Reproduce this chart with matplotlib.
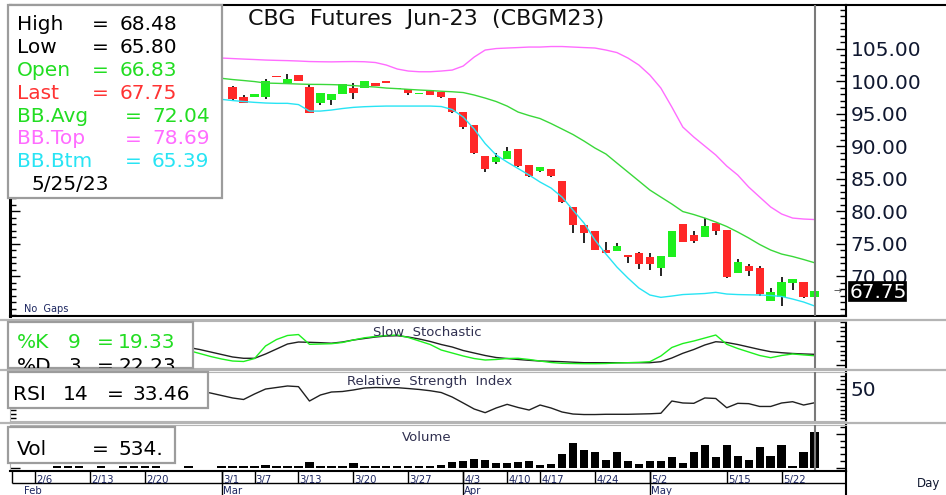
import numpy as np
import pandas as pd
import matplotlib
matplotlib.use("Agg")
import matplotlib.pyplot as plt
from matplotlib.patches import Rectangle
from matplotlib.lines import Line2D

W, H = 946, 495

# trading calendar (days without a print are left out of the chart)
no_trade = ['2023-03-06', '2023-04-07', '2023-04-13', '2023-04-14',
            '2023-05-01', '2023-05-09', '2023-05-10']
days = pd.bdate_range('2023-02-02', '2023-05-25').drop(pd.to_datetime(no_trade))


def pos(d):
    return days.get_loc(pd.Timestamp(d))


# ---- daily candles, 3/2 .. 5/25
candle_start = '2023-03-02'
c_open = [99.12, 97.58, 97.58, 97.58, 100.70, 99.65, 100.97, 99.03, 96.57, 97.08,
          97.95, 98.92, 98.92, 99.69, 100.00, 98.85, 98.72, 97.95, 98.62, 98.36,
          97.34, 95.18, 93.23, 88.50, 87.58, 88.05, 89.54, 87.08, 86.10, 86.41,
          84.57, 80.57, 77.85, 76.92, 74.00, 73.90, 73.28, 73.49, 72.97, 71.28,
          72.97, 77.95, 76.30, 75.95, 78.20, 77.08, 70.51, 71.59, 71.18, 66.20,
          66.72, 68.97, 69.03, 66.83]
c_high = [99.25, 97.80, 98.00, 100.26, 100.70, 101.08, 100.97, 99.43, 98.20, 98.00,
          99.49, 99.74, 100.00, 99.69, 100.00, 98.95, 98.72, 98.20, 98.62, 98.36,
          97.34, 95.18, 93.23, 88.50, 88.87, 89.90, 89.54, 87.08, 86.72, 86.41,
          84.57, 80.57, 77.85, 76.92, 75.28, 75.03, 73.28, 73.74, 73.49, 73.08,
          76.92, 77.95, 76.92, 78.87, 78.20, 77.08, 72.56, 71.85, 71.59, 68.10,
          69.80, 69.54, 69.03, 68.48]
c_low = [96.97, 96.57, 97.58, 97.18, 100.62, 99.65, 100.05, 95.12, 96.35, 96.35,
         97.95, 97.28, 98.92, 99.28, 99.74, 98.85, 97.90, 97.95, 97.80, 97.33,
         95.03, 92.57, 88.77, 86.05, 87.23, 88.05, 86.72, 85.18, 85.95, 85.28,
         81.18, 76.57, 75.12, 74.00, 73.59, 73.90, 71.95, 71.08, 70.92, 70.00,
         72.97, 75.28, 75.12, 75.95, 76.30, 69.64, 70.51, 70.05, 66.97, 66.20,
         65.43, 67.85, 66.60, 65.80]
c_close = [97.18, 96.57, 98.00, 100.05, 100.62, 100.35, 100.05, 95.12, 98.20, 98.00,
           99.49, 98.20, 100.00, 99.28, 99.74, 98.95, 98.20, 98.15, 97.80, 97.58,
           95.28, 92.97, 88.87, 86.40, 88.26, 89.23, 86.97, 85.43, 86.72, 85.43,
           81.43, 77.85, 76.57, 74.00, 73.59, 74.62, 72.97, 71.80, 71.80, 73.08,
           76.92, 75.28, 75.43, 77.69, 76.92, 69.90, 72.10, 70.77, 67.23, 67.59,
           69.03, 69.54, 66.72, 67.75]

# ---- Bollinger bands, 3/1 .. 5/25
bb_start = '2023-03-01'
bb_avg = [100.42, 100.23, 100.08, 99.92, 99.69, 99.65, 99.60, 99.54, 99.49, 99.48,
          99.45, 99.40, 99.30, 99.18, 99.08, 98.92, 98.83, 98.72, 98.62, 98.54,
          98.43, 98.35, 98.23, 97.85, 97.38, 96.85, 96.15, 95.23, 94.69, 94.23,
          93.46, 92.62, 91.77, 90.77, 89.69, 88.77, 87.38, 86.00, 84.62, 83.23,
          82.15, 81.08, 79.92, 79.46, 78.92, 78.31, 77.62, 76.77, 75.85, 74.85,
          74.00, 73.38, 73.00, 72.54, 72.04]
bb_top = [103.54, 103.46, 103.38, 103.31, 103.23, 103.18, 103.14, 103.08, 103.00, 102.97,
          102.95, 102.98, 103.00, 102.97, 102.85, 102.46, 101.85, 101.54, 101.43, 101.43,
          101.54, 101.69, 102.31, 103.69, 104.77, 105.00, 105.08, 105.15, 105.23, 105.23,
          105.31, 105.31, 105.23, 105.15, 105.08, 104.77, 104.38, 103.54, 102.46, 100.92,
          98.92, 96.00, 92.92, 91.38, 90.00, 88.62, 86.92, 85.54, 83.69, 82.15,
          80.62, 79.54, 78.92, 78.77, 78.69]
bb_btm = [97.18, 97.00, 96.85, 96.72, 96.62, 96.57, 96.57, 96.38, 95.38, 95.38,
          95.54, 95.77, 95.95, 96.05, 96.11, 96.15, 96.15, 96.15, 96.15, 96.15,
          96.08, 95.62, 94.46, 92.62, 90.38, 88.62, 87.54, 86.54, 85.54, 84.46,
          83.54, 82.15, 80.15, 78.15, 75.54, 73.38, 71.38, 69.69, 68.15, 67.08,
          66.72, 66.92, 67.15, 67.23, 67.31, 67.49, 67.23, 67.15, 67.11, 67.08,
          67.00, 66.85, 66.46, 66.00, 65.39]

# ---- slow stochastic, 2/24 .. 5/25
stoch_start = '2023-02-24'
stoch_k = [30.2, 24.0, 17.7, 12.5, 8.3, 7.3, 13.5, 39.6, 53.1, 61.5,
           63.5, 43.1, 43.75, 44.4, 46.9, 52.1, 56.7, 59.4, 61.5, 62.5,
           57.3, 50.0, 42.7, 31.25, 25.0, 18.75, 13.5, 10.4, 11.5, 13.5,
           14.0, 11.5, 8.3, 5.2, 3.5, 3.1, 2.7, 2.7, 3.1, 4.2,
           4.8, 5.6, 6.9, 18.75, 36.5, 44.8, 50.0, 56.25, 62.5, 43.1,
           34.4, 27.1, 19.8, 15.2, 19.8, 23.0, 21.0, 19.33]
stoch_d = [36.5, 32.3, 27.1, 21.9, 16.7, 14.0, 14.0, 22.9, 33.3, 43.75,
           47.9, 47.3, 46.5, 45.4, 47.9, 52.1, 55.2, 58.3, 60.4, 61.0,
           58.3, 54.2, 49.0, 42.7, 37.5, 30.2, 25.0, 19.8, 15.6, 13.5,
           11.5, 9.8, 8.3, 7.7, 6.9, 5.8, 4.8, 4.8, 4.8, 4.8,
           4.8, 4.8, 4.8, 6.9, 14.6, 24.4, 32.3, 41.7, 48.5, 46.9,
           42.7, 37.5, 32.3, 27.7, 25.6, 24.0, 23.0, 22.23]

# ---- RSI 14, 2/27 .. 5/25
rsi_start = '2023-02-27'
rsi = [47.3, 44.9, 42.0, 39.1, 37.3, 43.8, 49.6, 51.4, 53.2, 52.4,
       35.5, 42.6, 46.1, 46.7, 48.5, 50.8, 51.4, 51.2, 51.2, 50.2,
       49.1, 47.6, 45.5, 40.2, 33.2, 26.1, 21.8, 27.3, 31.6, 27.9,
       24.9, 30.8, 27.3, 22.6, 20.2, 19.6, 19.6, 19.9, 19.9, 19.9,
       20.2, 20.5, 21.1, 35.5, 33.2, 32.8, 39.1, 38.5, 27.6, 32.8,
       32.4, 29.1, 29.1, 33.2, 34.7, 30.8, 33.46]

# ---- volume, 2/2 .. 5/25
vol_start = '2023-02-02'
volume = [0, 0, 0, 0, 20, 20, 20, 0, 20, 0, 20, 20, 20, 20, 0, 0, 20, 0, 0,
          25, 25, 25, 25, 40, 25, 25, 25, 79, 25, 25, 25, 64, 25, 25, 25, 25, 25,
          25, 30, 45, 89, 99, 129, 114, 74, 64, 89, 99, 40, 49, 197, 370, 262,
          227, 114, 227, 99, 49, 99, 99, 163, 64, 227, 336, 163, 336, 178, 114,
          311, 178, 336, 30, 227, 534]

week_labels = ['2/6', '2/13', '2/20', '3/1', '3/7', '3/13', '3/20', '3/27',
               '4/3', '4/10', '4/17', '4/24', '5/2', '5/15', '5/22']
month_labels = ['Feb', 'Mar', 'Apr', 'May']
month_starts = ['2023-02-02', '2023-03-01', '2023-04-03', '2023-05-02']

GREEN = '#1ef01e'
RED = '#ff2828'
TXT_GREEN = '#22dd22'
TXT_RED = '#ff3333'
PINK = '#ff6cff'
CYAN = '#28e4f4'
NAVY = '#1c2660'
GRID = '#b4b4b4'

fig = plt.figure(figsize=(W / 100, H / 100), dpi=100)
fig.patch.set_facecolor('white')


def rect(x0, y0, x1, y1):
    return [x0 / W, 1 - y1 / H, (x1 - x0) / W, (y1 - y0) / H]


def ftext(x, y, s, **kw):
    return fig.text(x / W, 1 - y / H, s, **kw)


def fline(x0, x1, y0, y1, **kw):
    fig.add_artist(Line2D([x0 / W, x1 / W], [1 - y0 / H, 1 - y1 / H], **kw))


def fbox(x0, y0, x1, y1, fc='white', ec='#9c9c9c', lw=1.6, z=10):
    r = Rectangle((x0 / W, 1 - y1 / H), (x1 - x0) / W, (y1 - y0) / H,
                  transform=fig.transFigure, fc=fc, ec=ec, lw=lw, zorder=z)
    fig.add_artist(r)
    return r


XLO, XHI = -0.27, 75.86
last = pos('2023-05-25')

ax = fig.add_axes(rect(10, 5, 846, 316))
ax_st = fig.add_axes(rect(10, 321, 846, 368))
ax_rsi = fig.add_axes(rect(10, 372, 846, 421))
ax_vol = fig.add_axes(rect(10, 425, 846, 471))
ax_dt = fig.add_axes(rect(10, 471, 846, 495))

for a in (ax, ax_st, ax_rsi, ax_vol, ax_dt):
    a.set_xlim(XLO, XHI)
    a.set_xticks([])
    a.set_facecolor('white')

# ---------------- price panel
xc = np.arange(pos(candle_start), pos(candle_start) + len(c_open))
o, hi, lo, cl = map(np.array, (c_open, c_high, c_low, c_close))
up = cl >= o
ax.vlines(xc, lo, hi, color='black', lw=1.2, zorder=2)
ax.bar(xc, np.maximum(np.abs(cl - o), 0.15), bottom=np.minimum(o, cl), width=0.76,
       color=np.where(up, GREEN, RED), linewidth=0, zorder=3)

xb = np.arange(pos(bb_start), pos(bb_start) + len(bb_avg))
ax.plot(xb, bb_top, color=PINK, lw=1, zorder=4)
ax.plot(xb, bb_avg, color='#3ad83a', lw=1, zorder=4)
ax.plot(xb, bb_btm, color=CYAN, lw=1, zorder=4)
ax.axvline(last, color='#7a7a7a', lw=1.5, zorder=5)

ax.set_ylim(63.85, 111.7)
ax.set_yticks(np.arange(70, 106, 5))
ax.set_yticks(np.arange(64, 112, 1), minor=True)
ax.yaxis.set_major_formatter(matplotlib.ticker.FormatStrFormatter('%.2f'))
ax.tick_params(axis='y', which='both', direction='in', left=True, right=True,
               labelleft=False, labelright=True, labelsize=14.5, pad=3.5,
               labelcolor='#101830', width=1)
ax.tick_params(axis='y', which='major', length=7)
ax.tick_params(axis='y', which='minor', length=4)
for s in ax.spines.values():
    s.set_linewidth(1.5)
ax.spines['left'].set_linewidth(2.2)

# ---------------- stochastic
xs = np.arange(pos(stoch_start), pos(stoch_start) + len(stoch_k))
ax_st.plot(xs, stoch_d, color='#202020', lw=1)
ax_st.plot(xs, stoch_k, color=GREEN, lw=1)
ax_st.set_ylim(-6.25, 91.7)
ax_st.set_yticks([0, 50])
ax_st.set_yticks(np.arange(0, 91, 10), minor=True)

# ---------------- RSI
xr = np.arange(pos(rsi_start), pos(rsi_start) + len(rsi))
ax_rsi.plot(xr, rsi, color='#202020', lw=1)
ax_rsi.set_ylim(12.0, 69.65)
ax_rsi.set_yticks([50])
ax_rsi.set_yticks(np.arange(15, 70, 5), minor=True)

# ---------------- volume
xv = np.arange(pos(vol_start), pos(vol_start) + len(volume))
ax_vol.bar(xv, volume, width=0.76, color='black', linewidth=0)
ax_vol.set_ylim(-49, 632)
ax_vol.set_yticks([0, 500])
ax_vol.set_yticks(np.arange(0, 601, 100), minor=True)

for a in (ax_st, ax_rsi, ax_vol):
    a.axvline(last, color='#7a7a7a', lw=1.5, zorder=5)
    a.tick_params(axis='y', which='both', direction='in', left=True, right=True,
                  labelleft=False, labelright=True, labelsize=14.5, pad=3.5,
                  labelcolor='#101830', width=1)
    a.tick_params(axis='y', which='major', length=7)
    a.tick_params(axis='y', which='minor', length=4)
    for k in ('top', 'bottom', 'left'):
        a.spines[k].set_color(GRID)
    a.spines['right'].set_linewidth(1.5)
ax_st.set_yticklabels([])
ax_vol.set_yticklabels([])
ax_rsi.set_yticklabels(['50'])
ax_vol.spines['bottom'].set_color('black')

# ---------------- date strip
ax_dt.set_ylim(24, 0)
ax_dt.set_yticks([])
for k in ('bottom', 'left'):
    ax_dt.spines[k].set_visible(False)
ax_dt.spines['top'].set_linewidth(1.5)
ax_dt.spines['right'].set_linewidth(1.5)
ax_dt.hlines(12, XLO + 0.2, XHI, color='black', lw=1)
ax_dt.vlines(XLO + 0.2, 0, 12, color='black', lw=1)
for lab in week_labels:
    p = pos('2023-' + lab.replace('/', '-'))
    ax_dt.vlines(p, 0, 12, color='black', lw=1)
    ax_dt.text(p + 0.1, 11.5, lab, fontsize=7.3, color=NAVY, va='baseline', ha='left')
for lab, d in zip(month_labels, month_starts):
    p = pos(d)
    if p > 0:
        ax_dt.vlines(p, 0, 24, color='black', lw=1)
        tx = p + 0.1
    else:
        tx = p + 1.0
    ax_dt.text(tx, 22.8, lab, fontsize=7.3, color=NAVY, va='baseline', ha='left')

# ---------------- frame lines across full width
fline(846, 946, 5, 5, color='black', lw=1.5)
fline(0, 946, 319.5, 319.5, color=GRID, lw=1.6)
fline(0, 946, 369.8, 369.8, color=GRID, lw=1.6)
fline(0, 946, 422.8, 422.8, color=GRID, lw=1.6)
ftext(917, 487, 'Day', fontsize=8.5, color='#101830', va='baseline')

# ---------------- panel titles
ftext(248, 25, 'CBG  Futures  Jun-23  (CBGM23)', fontsize=16, va='baseline', color='#101010')
ftext(373, 335.5, 'Slow  Stochastic', fontsize=9.5, va='baseline', color='#303050')
ftext(347, 385.5, 'Relative  Strength  Index', fontsize=9.5, va='baseline', color='#303050')
ftext(402, 441, 'Volume', fontsize=9.5, va='baseline', color='#303050')
ftext(24, 312, 'No  Gaps', fontsize=7, va='baseline', color=NAVY)

# ---------------- last price tag
fbox(848, 281, 906, 301, fc='black', ec='black', lw=0.5, z=10)
ftext(850, 298, '67.75', fontsize=14.5, color='white', va='baseline', zorder=11)
ftext(838, 291, '\u2192', fontsize=7, color='#444444', ha='center', va='center', zorder=11)

# ---------------- data boxes
fbox(8, 5, 222, 198)
FS = 14.5
rows = [('High', '68.48', 'black', 92, 120),
        ('Low', '65.80', 'black', 92, 120),
        ('Open', '66.83', TXT_GREEN, 92, 120),
        ('Last', '67.75', TXT_RED, 92, 120),
        ('BB.Avg', '72.04', TXT_GREEN, 125, 152),
        ('BB.Top', '78.69', PINK, 125, 152),
        ('BB.Btm', '65.39', CYAN, 125, 152)]
for i, (name, val, col, xe, xv_) in enumerate(rows):
    yb = 30 + i * 22.9
    ftext(17, yb, name, fontsize=FS, color=col, va='baseline', zorder=11)
    ftext(xe, yb, '=', fontsize=FS, color=col, va='baseline', zorder=11)
    ftext(xv_, yb, val, fontsize=FS, color=col, va='baseline', zorder=11)
ftext(31, 190, '5/25/23', fontsize=FS, color='black', va='baseline', zorder=11)

sbox = fbox(8, 322, 193, 368)
for yb, parts, col in ((348, ('%K', '9', '=', '19.33'), TXT_GREEN),
                       (372, ('%D', '3', '=', '22.23'), 'black')):
    for xp, s in zip((17, 68, 97, 118), parts):
        t = ftext(xp, yb, s, fontsize=FS, color=col, va='baseline', zorder=11)
        t.set_clip_path(sbox)
        t.set_clip_on(True)

fbox(8, 372, 208, 408)
for xp, s in zip((13, 63, 107, 132), ('RSI', '14', '=', '33.46')):
    ftext(xp, 400, s, fontsize=FS, color='black', va='baseline', zorder=11)

fbox(8, 427, 175, 463)
for xp, s in zip((17, 92, 118), ('Vol', '=', '534.')):
    ftext(xp, 455, s, fontsize=FS, color='black', va='baseline', zorder=11)

fig.savefig('out.png', dpi=100, facecolor='white')
